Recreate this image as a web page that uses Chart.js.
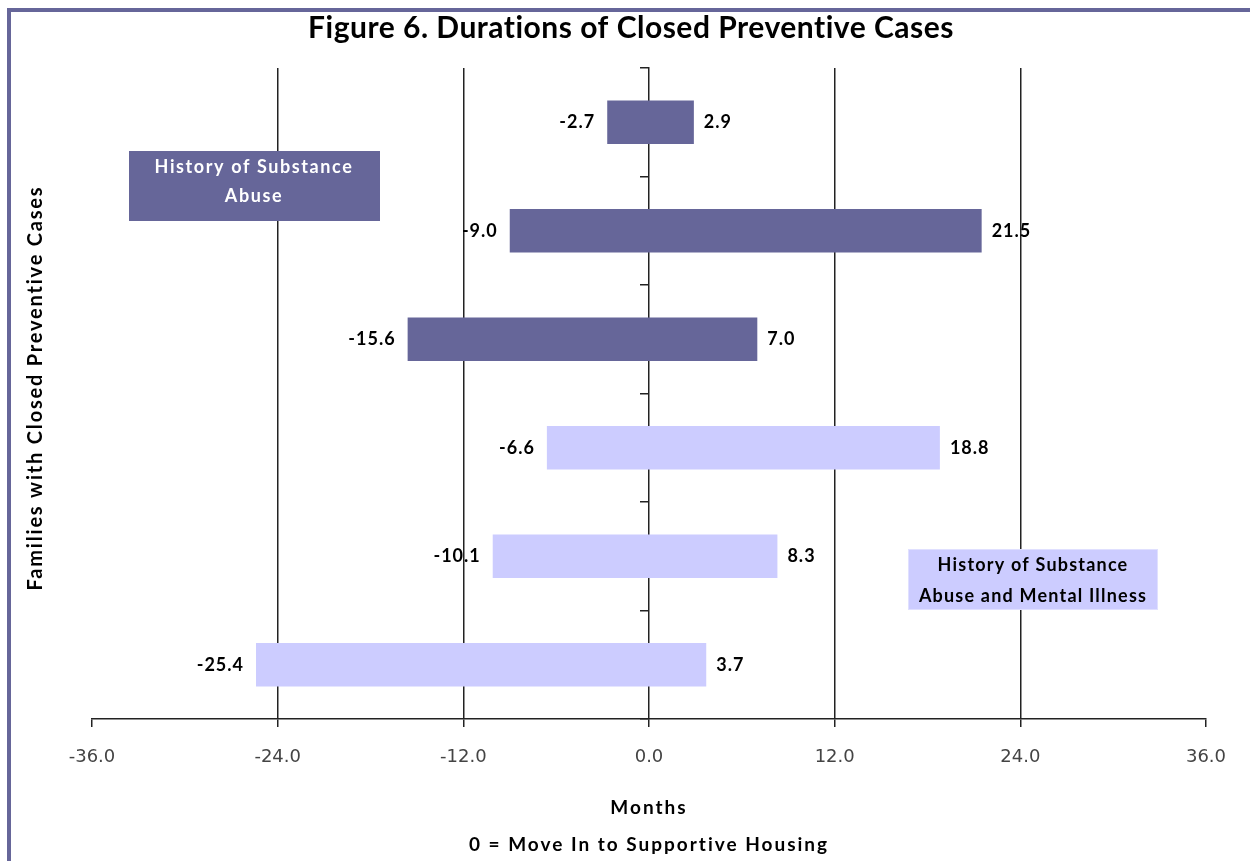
<!DOCTYPE html>
<html>
<head>
<meta charset="utf-8">
<script src="https://cdn.jsdelivr.net/npm/chart.js@4"></script>
<style>
  body { margin: 0; background: #fff; }
  #wrap { width: 1250px; height: 861px; position: relative; }
</style>
</head>
<body>
<div id="wrap"><canvas id="chart"></canvas></div>
<script>
// Data (months relative to move-in)
const categories = ['Family 1', 'Family 2', 'Family 3', 'Family 4', 'Family 5', 'Family 6'];
const startMonths = [-2.7, -9.0, -15.6, -6.6, -10.1, -25.4];
const endMonths = [2.9, 21.5, 7.0, 18.8, 8.3, 3.7];
const groups = ['abuse', 'abuse', 'abuse', 'both', 'both', 'both'];
const xTicks = [-36, -24, -12, 0, 12, 24, 36];

const groupColors = { abuse: '#666699', both: '#CCCCFF' };
const BOLD = '"Lato", "Open Sans", sans-serif';

// Draws frame, titles, legend boxes and value labels
const decorations = {
  id: 'decorations',
  beforeDraw(chart) {
    const c = chart.ctx;
    c.save();
    c.fillStyle = '#666699';
    c.fillRect(7, 8, 1250 - 7, 4);
    c.fillRect(7, 8, 4, 861 - 8);
    c.restore();
  },
  afterDatasetsDraw(chart) {
    const c = chart.ctx;
    const meta = chart.getDatasetMeta(0);
    c.save();
    c.font = 'bold 18px ' + BOLD;
    c.fillStyle = '#000';
    c.textBaseline = 'middle';
    c.letterSpacing = '1px';
    meta.data.forEach((bar, i) => {
      const left = Math.min(bar.x, bar.base);
      const right = Math.max(bar.x, bar.base);
      c.textAlign = 'right';
      c.fillText(startMonths[i].toFixed(1), left - 12, bar.y);
      c.textAlign = 'left';
      c.fillText(endMonths[i].toFixed(1), right + 10, bar.y);
    });
    c.restore();
  },
  afterDraw(chart) {
    const c = chart.ctx;
    c.save();
    c.fillStyle = '#000';
    c.textAlign = 'center';
    c.textBaseline = 'middle';

    c.letterSpacing = '0.5px';
    c.font = 'bold 30px ' + BOLD;
    c.fillText('Figure 6. Durations of Closed Preventive Cases', 631, 28);

    c.letterSpacing = '2px';
    c.font = 'bold 19px ' + BOLD;
    c.fillText('Months', 649, 808);
    c.fillText('0 = Move In to Supportive Housing', 649, 845);

    c.save();
    c.translate(36, 388);
    c.rotate(-Math.PI / 2);
    c.letterSpacing = '1.8px';
    c.font = 'bold 20px ' + BOLD;
    c.fillText('Families with Closed Preventive Cases', 0, 0);
    c.restore();

    // legend boxes
    c.letterSpacing = '1.6px';
    c.fillStyle = groupColors.abuse;
    c.fillRect(129, 151, 251, 70);
    c.fillStyle = '#fff';
    c.font = 'bold 18px ' + BOLD;
    c.fillText('History of Substance', 254, 167);
    c.fillText('Abuse', 254, 196);

    c.fillStyle = groupColors.both;
    c.fillRect(908, 549, 250, 61);
    c.strokeStyle = '#E0E0FF';
    c.lineWidth = 1;
    c.strokeRect(908.5, 549.5, 249, 60);
    c.fillStyle = '#000';
    c.letterSpacing = '1.2px';
    c.fillText('History of Substance', 1033, 565);
    c.fillText('Abuse and Mental Illness', 1033, 596);
    c.restore();
  }
};

new Chart(document.getElementById('chart'), {
  type: 'bar',
  data: {
    labels: categories,
    datasets: [{
      data: startMonths.map((s, i) => [s, endMonths[i]]),
      backgroundColor: groups.map(g => groupColors[g]),
      borderWidth: 0,
      barPercentage: 0.4,
      categoryPercentage: 1
    }]
  },
  options: {
    indexAxis: 'y',
    responsive: true,
    maintainAspectRatio: false,
    animation: false,
    layout: { padding: { left: 92, right: 44, top: 68, bottom: 0 } },
    plugins: { legend: { display: false }, tooltip: { enabled: false } },
    scales: {
      x: {
        type: 'linear',
        min: -36,
        max: 36,
        afterBuildTicks(scale) { scale.ticks = xTicks.map(v => ({ value: v })); },
        afterFit(scale) { scale.height = 142; },
        ticks: {
          callback: v => v.toFixed(1),
          color: '#444',
          font: { family: '"DejaVu Sans", sans-serif', size: 18 },
          padding: 20,
          maxRotation: 0
        },
        grid: {
          color: ctx => (ctx.tick && (ctx.tick.value === 0 || Math.abs(ctx.tick.value) === 36)) ? 'rgba(0,0,0,0)' : '#222',
          tickColor: '#222',
          lineWidth: 1.5,
          tickLength: 8
        },
        border: { display: true, color: '#222', width: 1.5 }
      },
      y: {
        type: 'category',
        position: { x: 0 },
        offset: true,
        ticks: { display: false },
        grid: {
          offset: true,
          drawOnChartArea: false,
          drawTicks: true,
          tickLength: 8,
          tickColor: '#222',
          lineWidth: 1.5
        },
        border: { display: true, color: '#222', width: 1.5 }
      }
    }
  },
  plugins: [decorations]
});
</script>
</body>
</html>
